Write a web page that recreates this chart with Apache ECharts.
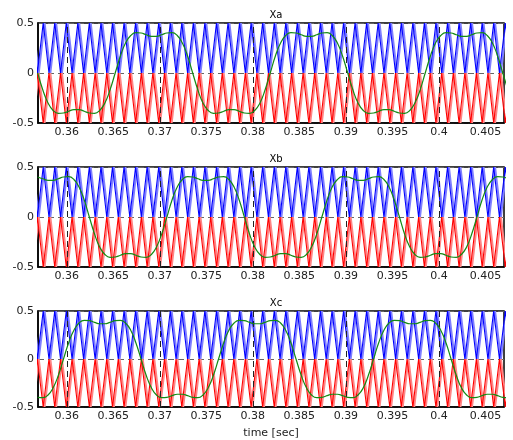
<!DOCTYPE html>
<html>
<head>
<meta charset="utf-8">
<script src="https://cdn.jsdelivr.net/npm/echarts@6/dist/echarts.min.js"></script>
<style>
html,body{margin:0;padding:0;background:#fff;}
#chart{width:513px;height:440px;}
</style>
</head>
<body>
<div id="chart"></div>
<script>
// ---- data ----
const panelNames = ['Xa', 'Xb', 'Xc'];
const xTicks = [0.36, 0.365, 0.37, 0.375, 0.38, 0.385, 0.39, 0.395, 0.4, 0.405];
const yTicks = [-0.5, 0, 0.5];
const xRange = [0.3569, 0.407];

// carrier vertex times (s)
const darkPeakTimes = [0.35621,0.35746,0.35870,0.35994,0.36118,0.36242,0.36367,0.36491,0.36615,0.36739,0.36863,0.36988,0.37112,0.37236,0.37360,0.37484,0.37609,0.37733,0.37857,0.37981,0.38105,0.38230,0.38354,0.38478,0.38602,0.38726,0.38851,0.38975,0.39099,0.39223,0.39347,0.39472,0.39596,0.39720,0.39844,0.39968,0.40093,0.40217,0.40341,0.40465,0.40589,0.40714];
const darkValleyTimes = [0.35683,0.35808,0.35932,0.36056,0.36180,0.36304,0.36429,0.36553,0.36677,0.36801,0.36925,0.37050,0.37174,0.37298,0.37422,0.37546,0.37671,0.37795,0.37919,0.38043,0.38167,0.38292,0.38416,0.38540,0.38664,0.38788,0.38913,0.39037,0.39161,0.39285,0.39409,0.39534,0.39658,0.39782,0.39906,0.40030,0.40155,0.40279,0.40403,0.40527,0.40651,0.40776];
const lightPeakTimes = [0.35636,0.35761,0.35885,0.36009,0.36133,0.36257,0.36382,0.36506,0.36630,0.36754,0.36878,0.37003,0.37127,0.37251,0.37375,0.37499,0.37624,0.37748,0.37872,0.37996,0.38120,0.38245,0.38369,0.38493,0.38617,0.38741,0.38866,0.38990,0.39114,0.39238,0.39362,0.39487,0.39611,0.39735,0.39859,0.39983,0.40108,0.40232,0.40356,0.40480,0.40604,0.40729];
const lightValleyTimes = [0.35698,0.35823,0.35947,0.36071,0.36195,0.36319,0.36444,0.36568,0.36692,0.36816,0.36940,0.37065,0.37189,0.37313,0.37437,0.37561,0.37686,0.37810,0.37934,0.38058,0.38182,0.38307,0.38431,0.38555,0.38679,0.38803,0.38928,0.39052,0.39176,0.39300,0.39424,0.39549,0.39673,0.39797,0.39921,0.40045,0.40170,0.40294,0.40418,0.40542,0.40667,0.40791];
const upperCarrierLevels = [0.5, 0];   // [peak, valley]
const lowerCarrierLevels = [-0.5, 0];  // [peak, valley]

// reference (green) signals
const refTimes = [0.35687,0.35742,0.35798,0.35853,0.35909,0.35964,0.36020,0.36076,0.36131,0.36187,0.36242,0.36298,0.36353,0.36409,0.36464,0.36520,0.36576,0.36631,0.36687,0.36742,0.36798,0.36853,0.36909,0.36964,0.37020,0.37076,0.37131,0.37187,0.37242,0.37298,0.37353,0.37409,0.37464,0.37520,0.37576,0.37631,0.37687,0.37742,0.37798,0.37853,0.37909,0.37964,0.38020,0.38076,0.38131,0.38187,0.38242,0.38298,0.38353,0.38409,0.38464,0.38520,0.38576,0.38631,0.38687,0.38742,0.38798,0.38853,0.38909,0.38964,0.39020,0.39076,0.39131,0.39187,0.39242,0.39298,0.39353,0.39409,0.39464,0.39520,0.39576,0.39631,0.39687,0.39742,0.39798,0.39853,0.39909,0.39964,0.40020,0.40076,0.40131,0.40187,0.40242,0.40298,0.40353,0.40409,0.40464,0.40520,0.40576,0.40631,0.40687,0.40742];
const xaRef = [0,-0.17,-0.30,-0.375,-0.403,-0.400,-0.382,-0.367,-0.367,-0.382,-0.400,-0.403,-0.375,-0.30,-0.17,
 0,0.17,0.30,0.375,0.403,0.400,0.382,0.367,0.367,0.382,0.400,0.403,0.375,0.30,0.17,0,-0.17,-0.30,-0.375,-0.403,-0.400,-0.382,-0.367,-0.367,-0.382,-0.400,-0.403,-0.375,-0.30,-0.17,
 0,0.17,0.30,0.375,0.403,0.400,0.382,0.367,0.367,0.382,0.400,0.403,0.375,0.30,0.17,0,-0.17,-0.30,-0.375,-0.403,-0.400,-0.382,-0.367,-0.367,-0.382,-0.400,-0.403,-0.375,-0.30,-0.17,
 0,0.17,0.30,0.375,0.403,0.400,0.382,0.367,0.367,0.382,0.400,0.403,0.375,0.30,0.17,0,-0.17];
const xbRef = [0.400,0.382,0.367,0.367,0.382,0.400,0.403,0.375,0.30,0.17,0,-0.17,-0.30,-0.375,-0.403,-0.400,-0.382,-0.367,-0.367,-0.382,-0.400,-0.403,-0.375,-0.30,-0.17,
 0,0.17,0.30,0.375,0.403,0.400,0.382,0.367,0.367,0.382,0.400,0.403,0.375,0.30,0.17,0,-0.17,-0.30,-0.375,-0.403,-0.400,-0.382,-0.367,-0.367,-0.382,-0.400,-0.403,-0.375,-0.30,-0.17,
 0,0.17,0.30,0.375,0.403,0.400,0.382,0.367,0.367,0.382,0.400,0.403,0.375,0.30,0.17,0,-0.17,-0.30,-0.375,-0.403,-0.400,-0.382,-0.367,-0.367,-0.382,-0.400,-0.403,-0.375,-0.30,-0.17,
 0,0.17,0.30,0.375,0.403,0.400,0.382];
const xcRef = [-0.400,-0.403,-0.375,-0.30,-0.17,
 0,0.17,0.30,0.375,0.403,0.400,0.382,0.367,0.367,0.382,0.400,0.403,0.375,0.30,0.17,0,-0.17,-0.30,-0.375,-0.403,-0.400,-0.382,-0.367,-0.367,-0.382,-0.400,-0.403,-0.375,-0.30,-0.17,
 0,0.17,0.30,0.375,0.403,0.400,0.382,0.367,0.367,0.382,0.400,0.403,0.375,0.30,0.17,0,-0.17,-0.30,-0.375,-0.403,-0.400,-0.382,-0.367,-0.367,-0.382,-0.400,-0.403,-0.375,-0.30,-0.17,
 0,0.17,0.30,0.375,0.403,0.400,0.382,0.367,0.367,0.382,0.400,0.403,0.375,0.30,0.17,0,-0.17,-0.30,-0.375,-0.403,-0.400,-0.382,-0.367,-0.367,-0.382,-0.400,-0.403];
const refSignals = [xaRef, xbRef, xcRef];

// ---- build chart ----
function carrierPoints(peaks, valleys, levels) {
  const pts = [];
  for (let i = 0; i < peaks.length; i++) {
    pts.push([peaks[i], levels[0]]);
    pts.push([valleys[i], levels[1]]);
  }
  return pts;
}
const FONT = '"DejaVu Sans", Verdana, sans-serif';
const gridTops = [23, 167, 311];
const grids = [], xAxes = [], yAxes = [], series = [], titles = [];

panelNames.forEach((name, p) => {
  grids.push({left: 38, width: 466, top: gridTops[p], height: 100,
    show: true, borderColor: '#000', borderWidth: 1.5, backgroundColor: 'transparent'});
  titles.push({text: name, left: 271, top: gridTops[p] - 18, textAlign: 'center',
    textStyle: {fontSize: 10, fontWeight: 'normal', color: '#000', fontFamily: FONT}});
  xAxes.push({type: 'value', gridIndex: p, min: xRange[0], max: xRange[1], splitNumber: 10,
    axisLine: {show: true, onZero: false, lineStyle: {color: '#000', width: 1.5}},
    axisTick: {show: false},
    axisLabel: {customValues: xTicks, color: '#222', fontSize: 11, margin: 4, fontFamily: FONT},
    splitLine: {show: false},
    name: p === 2 ? 'time [sec]' : '', nameLocation: 'middle', nameGap: 21,
    nameTextStyle: {fontSize: 11, color: '#222', fontFamily: FONT}});
  yAxes.push({type: 'value', gridIndex: p, min: yTicks[0], max: yTicks[2], interval: 0.5,
    axisLine: {show: true, lineStyle: {color: '#000', width: 1.5}},
    axisTick: {show: false},
    axisLabel: {color: '#222', fontSize: 11, margin: 4, fontFamily: FONT},
    splitLine: {show: true, lineStyle: {type: [6, 4], color: '#666', width: 1}}});
  const common = {type: 'line', xAxisIndex: p, yAxisIndex: p, showSymbol: false, symbol: 'none', animation: false, silent: true};
  series.push(Object.assign({}, common, {data: carrierPoints(lightPeakTimes, lightValleyTimes, upperCarrierLevels), lineStyle: {color: '#7f7fff', width: 2}}));
  series.push(Object.assign({}, common, {data: carrierPoints(lightPeakTimes, lightValleyTimes, lowerCarrierLevels), lineStyle: {color: '#ff8585', width: 2}}));
  series.push(Object.assign({}, common, {data: carrierPoints(darkPeakTimes, darkValleyTimes, upperCarrierLevels), lineStyle: {color: '#0000ff', width: 1.1}}));
  series.push(Object.assign({}, common, {data: carrierPoints(darkPeakTimes, darkValleyTimes, lowerCarrierLevels), lineStyle: {color: '#ff0000', width: 1.1}}));
  series.push(Object.assign({}, common, {data: refTimes.map((t, i) => [t, refSignals[p][i]]), smooth: true,
    lineStyle: {color: '#138a13', width: 1.2}, z: 5}));
  // dashed vertical grid lines drawn over the traces, at the tick values
  series.push(Object.assign({}, common, {data: [], z: 4,
    markLine: {silent: true, symbol: 'none', animation: false, label: {show: false},
      lineStyle: {type: [6, 4], color: '#222', width: 1},
      data: xTicks.map(v => ({xAxis: v}))}}));
});

const chart = echarts.init(document.getElementById('chart'), null, {renderer: 'canvas'});
chart.setOption({animation: false, backgroundColor: '#fff', title: titles, grid: grids, xAxis: xAxes, yAxis: yAxes, series: series});
</script>
</body>
</html>
